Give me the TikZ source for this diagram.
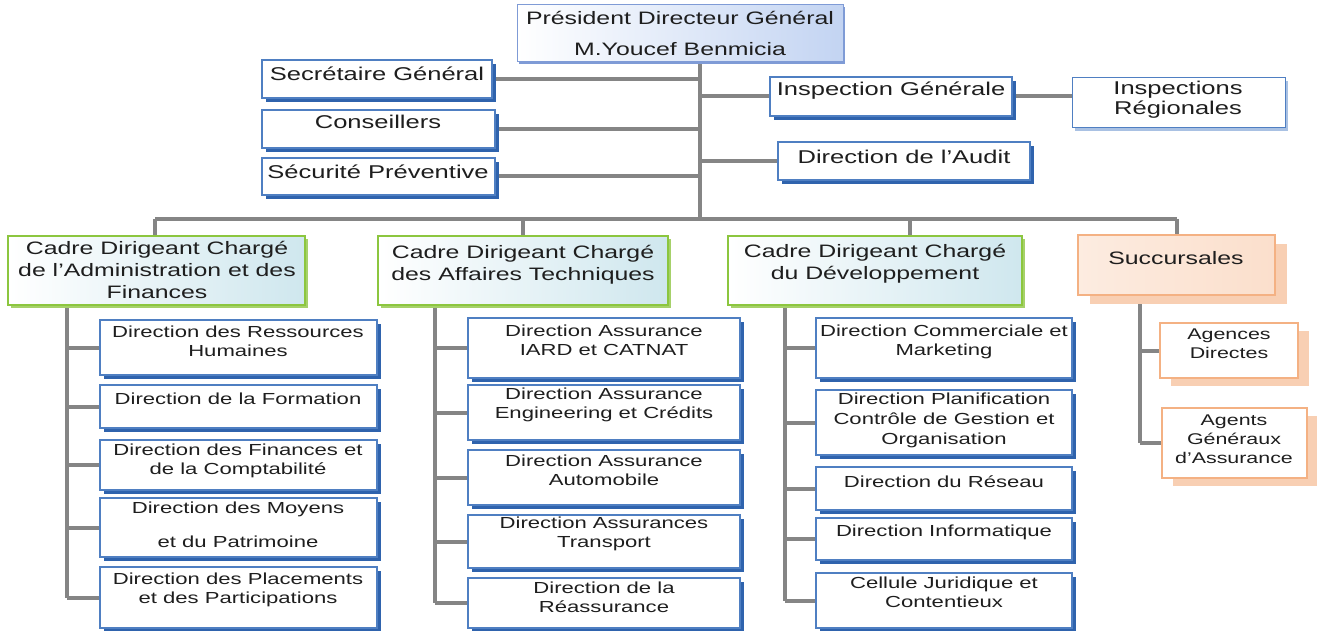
\documentclass[tikz,border=0pt]{standalone}
\usepackage{fontspec}
\setmainfont{Liberation Sans}[FakeStretch=1.38]
\usetikzlibrary{shadows}
\pgfdeclarelayer{background}
\pgfsetlayers{background,main}
\definecolor{lineg}{HTML}{858585}
\definecolor{bbord}{HTML}{4F7FC2}
\definecolor{bshad}{HTML}{2F63AD}
\definecolor{greenb}{HTML}{8CC63F}
\definecolor{greensh}{HTML}{A6D16A}
\definecolor{cadreR}{HTML}{CFE7EE}
\definecolor{pdgR}{HTML}{C3D4F2}
\definecolor{pdgB}{HTML}{7F9BD6}
\definecolor{orb}{HTML}{F4B183}
\definecolor{orsh}{HTML}{F8CFB3}
\definecolor{orfill}{HTML}{FBDFCC}
\definecolor{lbsh}{HTML}{A9C1E3}
\definecolor{txtc}{HTML}{1E1E1E}
\newcommand\mybox[6]{\node[#1, minimum width={(#5)-(#3)}, minimum height={(#6)-(#4)}] (#2) at ({((#3)+(#5))/2},{((#4)+(#6))/2}) {};}
\tikzset{
  conn/.style={draw=lineg, line width=4pt},
  bb/.style={draw=bbord, line width=1.2pt, fill=white, inner sep=0pt,
    general shadow={fill=bshad, shadow xshift=4pt, shadow yshift=-4pt}},
  lb/.style={draw=bbord, line width=1pt, fill=white, inner sep=0pt,
    general shadow={fill=lbsh, shadow xshift=3pt, shadow yshift=-3pt}},
  pdgbox/.style={draw=pdgB, line width=1pt, left color=white, right color=pdgR, inner sep=0pt,
    general shadow={fill=pdgB, shadow xshift=2pt, shadow yshift=-2pt}},
  cadre/.style={draw=greenb, line width=2.6pt, left color=white, right color=cadreR, inner sep=0pt,
    general shadow={fill=greensh, shadow xshift=3pt, shadow yshift=-3pt}},
  succ/.style={draw=orb, line width=1.5pt, left color=orfill!60, right color=orfill, inner sep=0pt,
    general shadow={fill=orsh, shadow xshift=12pt, shadow yshift=-9pt}},
  ob/.style={draw=orb, line width=1.5pt, fill=white, inner sep=0pt,
    general shadow={fill=orsh, shadow xshift=11pt, shadow yshift=-8pt}},
  txt/.style={align=center, inner sep=0pt, text=txtc},
  tbig/.style={txt, font=\fontsize{18.5}{20}\selectfont},
  tcad/.style={txt, font=\fontsize{18}{22}\selectfont},
  tsm/.style={txt, font=\fontsize{16}{19}\selectfont},
}
\begin{document}
\begin{tikzpicture}[x=1pt, y=-1pt]
\useasboundingbox (0,0) rectangle (1317,631);
% coordinates of the connector skeleton
\coordinate (bt) at (700,219);
\coordinate (busL) at (155,219);
\coordinate (busM) at (523,219);
\coordinate (busC) at (910,219);
\coordinate (busR) at (1177,219);
\coordinate (v1) at (67,305);
\coordinate (v2) at (435,305);
\coordinate (v3) at (785,305);
\coordinate (v4) at (1140,295);

% ---- top level
\mybox{pdgbox}{pdg}{517}{5}{843}{62}
\node[tbig, font=\fontsize{18}{19}\selectfont] (pdg-t) at (680,33.5) {Président Directeur Général\\[12pt]M.Youcef Benmicia};
\mybox{bb}{sec}{262}{60}{492}{98}
\node[tbig] (sec-t) at (377,74) {Secrétaire Général};
\mybox{bb}{cons}{262}{110}{495}{148}
\node[tbig] (cons-t) at (378,122) {Conseillers};
\mybox{bb}{secu}{262}{158}{495}{195}
\node[tbig] (secu-t) at (378,172) {Sécurité Préventive};
\mybox{bb}{insp}{770}{77}{1012}{116}
\node[tbig] (insp-t) at (891,91) {Inspection Générale};
\mybox{bb}{audit}{778}{142}{1030}{180}
\node[tbig] (audit-t) at (904,157) {Direction de l’Audit};
\mybox{lb}{ireg}{1072}{78}{1285}{128}
\node[tbig] (ireg-t) at (1178,100) {Inspections\\Régionales};

% ---- cadres
\mybox{cadre}{c1}{8}{236}{305}{305}
\node[tcad] (c1-t) at (157,270) {Cadre Dirigeant Chargé\\de l’Administration et des\\Finances};
\mybox{cadre}{c2}{378}{236}{668}{305}
\node[tcad] (c2-t) at (523,265) {Cadre Dirigeant Chargé\\des Affaires Techniques};
\mybox{cadre}{c3}{728}{236}{1022}{305}
\node[tcad] (c3-t) at (875,264) {Cadre Dirigeant Chargé\\du Développement};
\mybox{succ}{succ}{1078}{235}{1275}{295}
\node[tcad] (succ-t) at (1176,258) {Succursales};

% ---- left column
\mybox{bb}{l1}{100}{320}{377}{375}
\node[tsm] (l1-t) at (238,341) {Direction des Ressources\\Humaines};
\mybox{bb}{l2}{100}{385}{377}{428}
\node[tsm] (l2-t) at (238,399) {Direction de la Formation};
\mybox{bb}{l3}{100}{440}{377}{490}
\node[tsm] (l3-t) at (238,461) {Direction des Finances et\\de la Comptabilité};
\mybox{bb}{l4}{100}{498}{377}{557}
\node[tsm] (l4-t) at (238,525) {Direction des Moyens\\[15pt]et du Patrimoine};
\mybox{bb}{l5}{100}{567}{377}{628}
\node[tsm] (l5-t) at (238,590) {Direction des Placements\\et des Participations};

% ---- middle column
\mybox{bb}{m1}{468}{318}{740}{378}
\node[tsm] (m1-t) at (604,340) {Direction Assurance\\IARD et CATNAT};
\mybox{bb}{m2}{468}{385}{740}{440}
\node[tsm] (m2-t) at (604,405) {Direction Assurance\\Engineering et Crédits};
\mybox{bb}{m3}{468}{450}{740}{505}
\node[tsm] (m3-t) at (604,470) {Direction Assurance\\Automobile};
\mybox{bb}{m4}{468}{515}{740}{568}
\node[tsm] (m4-t) at (604,534) {Direction Assurances\\Transport};
\mybox{bb}{m5}{468}{578}{740}{628}
\node[tsm] (m5-t) at (604,597) {Direction de la\\Réassurance};

% ---- right column
\mybox{bb}{r1}{816}{318}{1072}{378}
\node[tsm] (r1-t) at (944,342) {Direction Commerciale et\\Marketing};
\mybox{bb}{r2}{816}{390}{1072}{455}
\node[tsm, font=\fontsize{16}{20}\selectfont] (r2-t) at (944,420) {Direction Planification\\Contrôle de Gestion et\\Organisation};
\mybox{bb}{r3}{816}{467}{1072}{510}
\node[tsm] (r3-t) at (944,482) {Direction du Réseau};
\mybox{bb}{r4}{816}{518}{1072}{560}
\node[tsm] (r4-t) at (944,532) {Direction Informatique};
\mybox{bb}{r5}{816}{573}{1072}{628}
\node[tsm] (r5-t) at (944,592) {Cellule Juridique et\\Contentieux};

% ---- succursales column
\mybox{ob}{s1}{1160}{323}{1298}{378}
\node[tsm, font=\fontsize{15.5}{19}\selectfont] (s1-t) at (1229,344) {Agences\\Directes};
\mybox{ob}{s2}{1162}{408}{1307}{478}
\node[tsm, font=\fontsize{15.5}{19}\selectfont] (s2-t) at (1234,439) {Agents\\Généraux\\d’Assurance};

% ---- connectors (behind boxes)
\begin{pgfonlayer}{background}
\fill[white] (0,0) rectangle (1317,631);
\draw[conn] (pdg.south -| bt) -- (bt);
\draw[conn] (busL) -- (busR);
\draw[conn] (sec.east) -- (sec.east -| bt);
\draw[conn] (cons.east) -- (cons.east -| bt);
\draw[conn] (secu.east) -- (secu.east -| bt);
\draw[conn] (insp.west -| bt) -- (insp.west);
\draw[conn] (audit.west -| bt) -- (audit.west);
\draw[conn] (insp.east) -- (ireg.west |- insp.east);
\draw[conn] (busL) -- (c1.north -| busL);
\draw[conn] (busM) -- (c2.north -| busM);
\draw[conn] (busC) -- (c3.north -| busC);
\draw[conn] (busR) -- (succ.north -| busR);
% left column
\draw[conn] (c1.south -| v1) -- (v1 |- l5.west);
\foreach \b in {l1,l2,l3,l4,l5} \draw[conn] (v1 |- \b.west) -- (\b.west);
% middle column
\draw[conn] (c2.south -| v2) -- (v2 |- m5.west);
\foreach \b in {m1,m2,m3,m4,m5} \draw[conn] (v2 |- \b.west) -- (\b.west);
% right column
\draw[conn] (c3.south -| v3) -- (v3 |- r5.west);
\foreach \b in {r1,r2,r3,r4,r5} \draw[conn] (v3 |- \b.west) -- (\b.west);
% succursales
\draw[conn] (succ.south -| v4) -- (v4 |- s2.west);
\foreach \b in {s1,s2} \draw[conn] (v4 |- \b.west) -- (\b.west);
\end{pgfonlayer}
\end{tikzpicture}
\end{document}
